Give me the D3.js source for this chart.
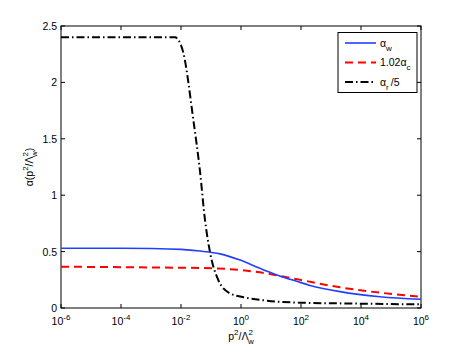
<!DOCTYPE html>
<html lang="en">
<head>
<meta charset="UTF-8">
<title>alpha</title>
<style>
body{margin:0;background:#fff;}
text{font-family:"Liberation Sans",Arial,sans-serif;font-size:10.5px;fill:#000;}
</style>
</head>
<body>
<script src="https://d3js.org/d3.v7.min.js"></script>
<script>
// exponents of p^2/Lambda_w^2 (log10)
var wExp = [-6, -4, -3, -2, -1.37, -0.7, -0.03, 0.63, 1.13, 1.63, 2.3, 3.3, 4.63, 6];
var wVal = [0.53, 0.53, 0.528, 0.52, 0.505, 0.48, 0.425, 0.352, 0.30, 0.255, 0.20, 0.145, 0.10, 0.078];
var cExp = [-6, -4, -2, -1.37, -0.03, 0.63, 1.13, 1.97, 3.3, 4.63, 6];
var cVal = [0.366, 0.362, 0.357, 0.355, 0.337, 0.316, 0.293, 0.25, 0.183, 0.136, 0.10];
var rExp = [-6, -4, -2.2, -2.13, -1.92, -1.59, -1.37, -1.2, -1.03, -0.76, -0.37, 0.19, 0.87, 1.97, 3.63, 5.3, 6];
var rVal = [2.40, 2.40, 2.40, 2.39, 2.26, 1.67, 1.22, 0.78, 0.49, 0.25, 0.13, 0.09, 0.065, 0.047, 0.04, 0.034, 0.032];
var xTickExp = [-6, -4, -2, 0, 2, 4, 6];
var yTicks = [0, 0.5, 1, 1.5, 2, 2.5];

var W = 467, H = 351;
var m = {left: 61, right: 46, top: 26, bottom: 43};
var svg = d3.select("body").append("svg").attr("width", W).attr("height", H);
var iw = W - m.left - m.right, ih = H - m.top - m.bottom;
var g = svg.append("g").attr("transform", "translate(" + m.left + "," + m.top + ")");

var x = d3.scaleLog().domain([1e-6, 1e6]).range([0, iw]);
var y = d3.scaleLinear().domain([0, 2.5]).range([ih, 0]);

//坐标框
g.append("rect").attr("width", iw).attr("height", ih).attr("fill", "none").attr("stroke", "#000").attr("stroke-width", 1);
var tl = 4;
xTickExp.forEach(function(e){
	var px = x(Math.pow(10, e));
	g.append("line").attr("x1", px).attr("x2", px).attr("y1", ih).attr("y2", ih - tl).attr("stroke", "#000");
	g.append("line").attr("x1", px).attr("x2", px).attr("y1", 0).attr("y2", tl).attr("stroke", "#000");
	var t = g.append("text").attr("x", px).attr("y", ih + 17).attr("text-anchor", "middle");
	t.append("tspan").text("10");
	t.append("tspan").attr("dy", -5).attr("font-size", "8px").text(e);
});
yTicks.forEach(function(v){
	var py = y(v);
	g.append("line").attr("x1", 0).attr("x2", tl).attr("y1", py).attr("y2", py).attr("stroke", "#000");
	g.append("line").attr("x1", iw).attr("x2", iw - tl).attr("y1", py).attr("y2", py).attr("stroke", "#000");
	g.append("text").attr("x", -4).attr("y", py + 4).attr("text-anchor", "end").text(v);
});

var line = d3.line().x(function(d){ return x(Math.pow(10, d[0])); }).y(function(d){ return y(d[1]); }).curve(d3.curveMonotoneX);
function series(ex, va){ return ex.map(function(e, i){ return [e, va[i]]; }); }

g.append("path").attr("d", line(series(rExp, rVal))).attr("fill", "none").attr("stroke", "#000").attr("stroke-width", 2).attr("stroke-dasharray", "8,3,1.5,3");
g.append("path").attr("d", line(series(cExp, cVal))).attr("fill", "none").attr("stroke", "#f00").attr("stroke-width", 2).attr("stroke-dasharray", "8,5");
g.append("path").attr("d", line(series(wExp, wVal))).attr("fill", "none").attr("stroke", "#2040ff").attr("stroke-width", 1.6);

// legend
var lg = svg.append("g");
lg.append("rect").attr("x", 338).attr("y", 32.5).attr("width", 79).attr("height", 60).attr("fill", "#fff").attr("stroke", "#000");
var legs = [
	{c: "#2040ff", d: null, w: 1.6, sub: "w", pre: "", post: ""},
	{c: "#f00", d: "8,5", w: 2, sub: "c", pre: "1.02", post: ""},
	{c: "#000", d: "8,3,1.5,3", w: 2, sub: "r", pre: "", post: "/5"}
];
legs.forEach(function(l, i){
	var ly = 43 + i * 19.5;
	var ln = lg.append("line").attr("x1", 345).attr("x2", 376).attr("y1", ly).attr("y2", ly).attr("stroke", l.c).attr("stroke-width", l.w);
	if (l.d) ln.attr("stroke-dasharray", l.d);
	var t = lg.append("text").attr("x", 380).attr("y", ly + 3.5);
	t.append("tspan").text(l.pre + "\u03b1");
	t.append("tspan").attr("dy", 4).attr("font-size", "8px").text(l.sub);
	if (l.post) t.append("tspan").attr("dy", -4).attr("dx", 2).text(l.post);
});

// axis labels
var xl = svg.append("text").attr("x", m.left + iw / 2).attr("y", 340).attr("text-anchor", "middle");
xl.append("tspan").text("p");
xl.append("tspan").attr("dy", -5).attr("font-size", "8px").text("2");
xl.append("tspan").attr("dy", 5).text("/\u039b");
xl.append("tspan").attr("dy", -5).attr("font-size", "8px").text("2");
xl.append("tspan").attr("dx", -5).attr("dy", 9).attr("font-size", "8px").text("w");

var yl = svg.append("text").attr("transform", "translate(33," + (m.top + ih / 2) + ") rotate(-90)").attr("text-anchor", "middle");
yl.append("tspan").text("\u03b1(p");
yl.append("tspan").attr("dy", -5).attr("font-size", "8px").text("2");
yl.append("tspan").attr("dy", 5).text("/\u039b");
yl.append("tspan").attr("dy", -5).attr("font-size", "8px").text("2");
yl.append("tspan").attr("dx", -5).attr("dy", 9).attr("font-size", "8px").text("w");
yl.append("tspan").attr("dy", -4).text(")");
</script>
</body>
</html>
